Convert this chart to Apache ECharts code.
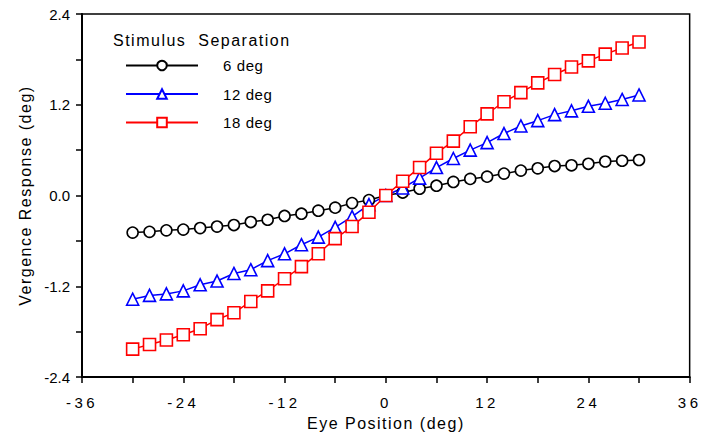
<!DOCTYPE html>
<html>
<head>
<meta charset="utf-8">
<script src="https://cdn.jsdelivr.net/npm/echarts@6/dist/echarts.min.js"></script>
<style>
html,body{margin:0;padding:0;background:#fff;}
#main{width:701px;height:436px;}
#main text[style*="xlab"], #main text[font-family*="xlab"]{letter-spacing:3.5px;}
#main text[style*="ttl"], #main text[font-family*="ttl"]{letter-spacing:1.5px;}
#main text[style*="lgd"], #main text[font-family*="lgd"]{letter-spacing:0.6px;}
</style>
</head>
<body>
<div id="main"></div>
<script>
const eyePosition = [-30,-28,-26,-24,-22,-20,-18,-16,-14,-12,-10,-8,-6,-4,-2,0,2,4,6,8,10,12,14,16,18,20,22,24,26,28,30];
const sep6 = [-0.49,-0.48,-0.46,-0.45,-0.43,-0.41,-0.39,-0.35,-0.32,-0.27,-0.24,-0.20,-0.16,-0.10,-0.06,0,0.04,0.09,0.13,0.18,0.22,0.25,0.29,0.33,0.36,0.39,0.40,0.42,0.45,0.46,0.47];
const sep12 = [-1.37,-1.32,-1.30,-1.26,-1.18,-1.13,-1.03,-0.98,-0.86,-0.77,-0.65,-0.55,-0.42,-0.28,-0.12,0,0.10,0.23,0.37,0.49,0.60,0.70,0.82,0.92,0.99,1.07,1.12,1.18,1.22,1.27,1.33];
const sep18 = [-2.03,-1.97,-1.91,-1.84,-1.76,-1.64,-1.55,-1.40,-1.26,-1.10,-0.94,-0.77,-0.57,-0.41,-0.22,0,0.19,0.37,0.56,0.72,0.91,1.08,1.24,1.36,1.49,1.60,1.70,1.78,1.87,1.95,2.03];
const seriesNames = ['6 deg','12 deg','18 deg'];
const legendTitle = 'Stimulus  Separation';
const xTitle = 'Eye Position (deg)';
const yTitle = 'Vergence Response (deg)';

const font = "'Liberation Sans', Arial, sans-serif";
const pair = (ys) => eyePosition.map((x, i) => [x, ys[i]]);

const chart = echarts.init(document.getElementById('main'), null, {renderer: 'svg'});
const mk = (name, data, color, symbol, size) => ({
  name, type: 'line', data: pair(data),
  symbol, symbolSize: size,
  lineStyle: {color, width: 1.5},
  itemStyle: {color: '#fff', borderColor: color, borderWidth: 1.6},
  emphasis: {disabled: true},
  animation: false, z: 3
});
chart.setOption({
  animation: false,
  backgroundColor: '#fff',
  title: {
    text: legendTitle, left: 108, top: 27,
    textStyle: {fontFamily: font + ', ttl', fontSize: 16, fontWeight: 'normal', color: '#000'}
  },
  legend: {
    orient: 'vertical', left: 120, top: 53,
    itemWidth: 72, itemHeight: 12, itemGap: 13.5,
    data: seriesNames,
    textStyle: {fontFamily: font + ', lgd', fontSize: 15, color: '#000', padding: [0,0,0,20]},
    inactiveColor: '#000'
  },
  grid: {left: 82, right: 9, top: 14, bottom: 53, show: true, borderColor: '#000', borderWidth: 1.5, containLabel: false},
  xAxis: {
    type: 'value', min: -36, max: 36, interval: 12,
    name: xTitle, nameLocation: 'middle', nameGap: 35,
    nameTextStyle: {fontFamily: font + ', ttl', fontSize: 16, color: '#000'},
    axisLine: {onZero: false, lineStyle: {color: '#000', width: 2}},
    axisTick: {inside: false, length: 6, lineStyle: {color: '#000', width: 1.5}},
    minorTick: {show: true, splitNumber: 2, length: 6, lineStyle: {color: '#000', width: 1.5}},
    splitLine: {show: false},
    axisLabel: {fontFamily: font + ', xlab', fontSize: 15, color: '#000', margin: 18}
  },
  yAxis: {
    type: 'value', min: -2.4, max: 2.4, interval: 1.2,
    name: yTitle, nameLocation: 'middle', nameGap: 48, nameRotate: 90,
    nameTextStyle: {fontFamily: font + ', ttl', fontSize: 16, color: '#000'},
    axisLine: {onZero: false, lineStyle: {color: '#000', width: 2}},
    axisTick: {inside: false, length: 6, lineStyle: {color: '#000', width: 1.5}},
    minorTick: {show: true, splitNumber: 2, length: 6, lineStyle: {color: '#000', width: 1.5}},
    splitLine: {show: false},
    axisLabel: {fontFamily: font, fontSize: 15, color: '#000', margin: 12,
      formatter: v => v.toFixed(1)}
  },
  series: [
    mk(seriesNames[0], sep6, '#000000', 'circle', 11),
    mk(seriesNames[1], sep12, '#0000ff', 'triangle', 12),
    mk(seriesNames[2], sep18, '#ff0000', 'rect', 12)
  ]
});
</script>
</body>
</html>
